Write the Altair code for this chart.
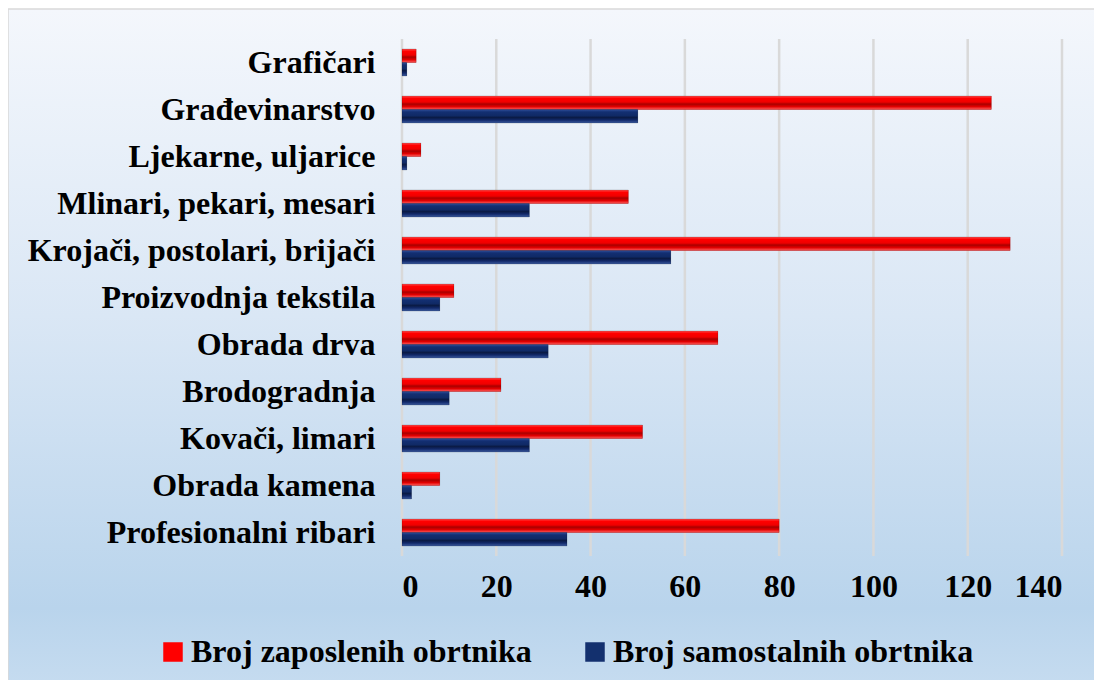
import altair as alt
import pandas as pd

categories = [
    "Grafičari",
    "Građevinarstvo",
    "Ljekarne, uljarice",
    "Mlinari, pekari, mesari",
    "Krojači, postolari, brijači",
    "Proizvodnja tekstila",
    "Obrada drva",
    "Brodogradnja",
    "Kovači, limari",
    "Obrada kamena",
    "Profesionalni ribari",
]
zaposleni = [3, 125, 4, 48, 129, 11, 67, 21, 51, 8, 80]
samostalni = [1, 50, 1, 27, 57, 8, 31, 10, 27, 2, 35]
series = ["Broj zaposlenih obrtnika", "Broj samostalnih obrtnika"]
x_ticks = [0, 20, 40, 60, 80, 100, 120, 140]

rows = []
for c, z, s in zip(categories, zaposleni, samostalni):
    rows.append({"kat": c, "serija": series[0], "vrijednost": z})
    rows.append({"kat": c, "serija": series[1], "vrijednost": s})
df = pd.DataFrame(rows)

FONT = "Liberation Serif"
W, H = 660, 517
PAD_L, PAD_T, PAD_R, PAD_B = 394, 31, 32, 124

xscale = alt.Scale(domain=[0, 140], nice=False, zero=True)
yscale = alt.Scale(domain=categories, paddingInner=0.425, paddingOuter=0.2125)
yoff_scale = alt.Scale(domain=series, paddingInner=0, paddingOuter=0)

x_axis = alt.Axis(
    values=x_ticks, labelFont=FONT, labelFontSize=32,
    labelFontWeight="bold", labelColor="#000000", labelPadding=15,
    domain=False, ticks=False, grid=False, zindex=1, title=None,
)

# background panel with gradient
bg = alt.Chart(alt.Data(values=[{}])).mark_rect(
    fill=alt.Gradient(
        gradient="linear", x1=0, x2=0, y1=0, y2=1,
        stops=[
            alt.GradientStop(color="#f4f7fc", offset=0),
            alt.GradientStop(color="#dae7f5", offset=0.45),
            alt.GradientStop(color="#b9d4ec", offset=0.88),
            alt.GradientStop(color="#c6dcf0", offset=1),
        ],
    ),
    stroke="#d9d9d9",
    strokeWidth=1.5,
).encode(
    x=alt.value(-PAD_L), x2=alt.value(W + PAD_R + 10),
    y=alt.value(-PAD_T + 1), y2=alt.value(H + PAD_B + 10),
)

grid = alt.Chart(pd.DataFrame({"t": x_ticks})).mark_rule(
    color="#d9d9d9", strokeWidth=2.5
).encode(x=alt.X("t:Q", scale=xscale, axis=x_axis))

base = alt.Chart(df)

bars = base.mark_bar(cornerRadius=0).encode(
    y=alt.Y(
        "kat:N", sort=categories, scale=yscale, title=None,
        axis=alt.Axis(
            labelFont=FONT, labelFontSize=32, labelFontWeight="bold",
            labelColor="#000000", labelPadding=27, domain=False, ticks=False,
            grid=False, labelLimit=0, zindex=1,
        ),
    ),
    yOffset=alt.YOffset("serija:N", sort=series, scale=yoff_scale),
    x=alt.X("vrijednost:Q", scale=xscale, title=None, axis=x_axis),
    color=alt.Color(
        "serija:N", sort=series,
        scale=alt.Scale(domain=series, range=["#ff0000", "#13306e"]),
        legend=alt.Legend(
            title=None, orient="none", direction="horizontal",
            legendX=-245, legendY=597, padding=0,
            symbolType="square", symbolSize=380, symbolStrokeWidth=0,
            symbolOpacity=1,
            labelFont=FONT, labelFontSize=32, labelFontWeight="bold",
            labelColor="#000000", labelOffset=2, columnPadding=47,
            labelLimit=0,
        ),
    ),
)

def bevel(name, stops):
    return base.transform_filter(alt.datum.serija == name).mark_bar(
        fill=alt.Gradient(
            gradient="linear", x1=0, x2=0, y1=0, y2=1,
            stops=[alt.GradientStop(color=c, offset=o) for o, c in stops],
        ),
        stroke="#00000033",
        strokeWidth=0.8,
    ).encode(
        y=alt.Y("kat:N", sort=categories, scale=yscale),
        yOffset=alt.YOffset("serija:N", sort=series, scale=yoff_scale),
        x=alt.X("vrijednost:Q", scale=xscale, axis=x_axis),
    )

red = bevel(series[0], [
    (0, "#ff4a4a"), (0.18, "#ff0000"), (0.45, "#f00000"),
    (0.6, "#a80000"), (0.78, "#e00000"), (1, "#ff5a5a"),
])
blue = bevel(series[1], [
    (0, "#2f4f9a"), (0.18, "#132f72"), (0.45, "#102a66"),
    (0.6, "#0a1a44"), (0.78, "#12296a"), (1, "#3d5ca0"),
])

chart = alt.layer(bg, grid, bars, red, blue).properties(
    width=W, height=H,
    autosize=alt.AutoSizeParams(type="none"),
    padding={"left": PAD_L, "top": PAD_T, "right": PAD_R, "bottom": PAD_B},
    background="#ffffff",
).configure_view(stroke=None)

chart.save("out.html", embed_options={"renderer": "svg", "actions": False})
